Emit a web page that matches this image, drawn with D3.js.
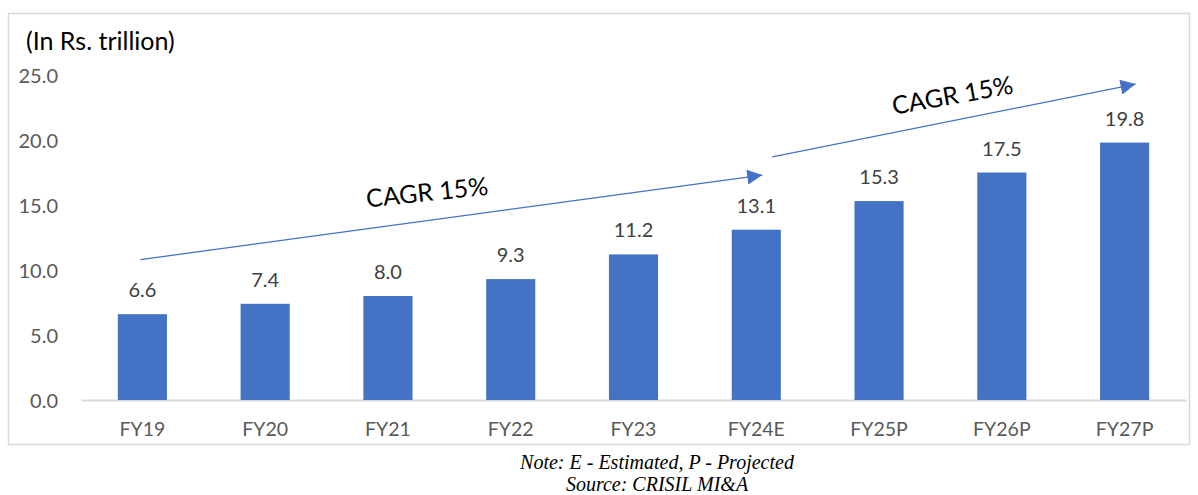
<!DOCTYPE html>
<html><head><meta charset="utf-8">
<script src="https://cdn.jsdelivr.net/npm/d3@7"></script>
<style>body{margin:0;background:#fff}svg{display:block}</style>
</head><body>
<script>
const categories = ["FY19","FY20","FY21","FY22","FY23","FY24E","FY25P","FY26P","FY27P"];
const values = [6.6,7.4,8.0,9.3,11.2,13.1,15.3,17.5,19.8];
const yTicks = [0,5,10,15,20,25];
const unitLabel = "(In Rs. trillion)";
const cagrLabels = ["CAGR 15%","CAGR 15%"];
const notes = ["Note: E - Estimated, P - Projected","Source: CRISIL MI&A"];

const W=1198,H=495;
const svg=d3.select("body").append("svg").attr("width",W).attr("height",H);
const font="Lato, 'Open Sans', sans-serif";

svg.append("rect").attr("x",8.5).attr("y",13.5).attr("width",1181).attr("height",431)
  .attr("fill","#fff").attr("stroke","#D9D9D9").attr("stroke-width",1.5);

const x=d3.scaleBand().domain(categories).range([81,1186]).paddingInner(0.6).paddingOuter(0.3);
const y=d3.scaleLinear().domain([0,25]).range([400,75]);

// y axis labels
const ya=svg.append("g").attr("transform","translate(58,0)")
  .call(d3.axisLeft(y).tickValues(yTicks).tickFormat(d3.format(".1f")).tickSize(0).tickPadding(0));
ya.select(".domain").remove();
ya.selectAll("text").attr("font-family",font).attr("font-size",20).attr("fill","#595959").attr("dy","0.35em");

// x axis
const xa=svg.append("g").attr("transform","translate(0,400)")
  .call(d3.axisBottom(x).tickSize(0).tickPadding(22));
xa.select(".domain").attr("stroke","#D9D9D9").attr("stroke-width",2);
xa.selectAll("text").attr("font-family",font).attr("font-size",19.5).attr("fill","#595959");

// bars
svg.append("g").selectAll("rect").data(values).join("rect")
  .attr("x",(d,i)=>x(categories[i])).attr("width",x.bandwidth())
  .attr("y",d=>y(d)).attr("height",d=>y(0)-y(d)).attr("fill","#4472C4");

svg.append("g").selectAll("text").data(values).join("text")
  .attr("x",(d,i)=>x(categories[i])+x.bandwidth()/2).attr("y",d=>y(d)-17)
  .attr("text-anchor","middle").attr("font-family",font).attr("font-size",20).attr("fill","#404040")
  .text(d=>d3.format(".1f")(d));

// unit label
svg.append("text").attr("x",26).attr("y",50).attr("font-family",font).attr("font-size",25)
  .attr("fill","#000").text(unitLabel);

// arrows
const defs=svg.append("defs");
defs.append("marker").attr("id","ah").attr("viewBox","0 0 10 10").attr("refX",10).attr("refY",5)
  .attr("markerWidth",17).attr("markerHeight",15).attr("markerUnits","userSpaceOnUse").attr("orient","auto")
  .append("path").attr("d","M0,0 L10,5 L0,10 Z").attr("fill","#4472C4");

const arrows=[[x("FY19")+x.bandwidth()/2-2,y(10.8),x("FY24E")+x.bandwidth()/2+6,y(17.3)],
              [x("FY24E")+x.bandwidth()/2+16,y(18.7),x("FY27P")+x.bandwidth()/2+11,y(24.3)]];
svg.append("g").selectAll("line").data(arrows).join("line")
  .attr("x1",d=>d[0]).attr("y1",d=>d[1]).attr("x2",d=>d[2]).attr("y2",d=>d[3])
  .attr("stroke","#4472C4").attr("stroke-width",1.3).attr("marker-end","url(#ah)");

const cagrPos=[[428,201,-6],[954,104,-10]];
svg.append("g").selectAll("text").data(cagrLabels).join("text")
  .attr("transform",(d,i)=>`translate(${cagrPos[i][0]},${cagrPos[i][1]}) rotate(${cagrPos[i][2]})`)
  .attr("text-anchor","middle").attr("font-family",font).attr("font-size",25).attr("fill","#000")
  .text(d=>d);

// notes
svg.append("g").selectAll("text").data(notes).join("text")
  .attr("x",657).attr("y",(d,i)=>469+i*22).attr("text-anchor","middle")
  .attr("font-family","'Liberation Serif','Times New Roman',serif").attr("font-style","italic")
  .attr("font-size",20).attr("fill","#000").text(d=>d);
</script>
</body></html>
